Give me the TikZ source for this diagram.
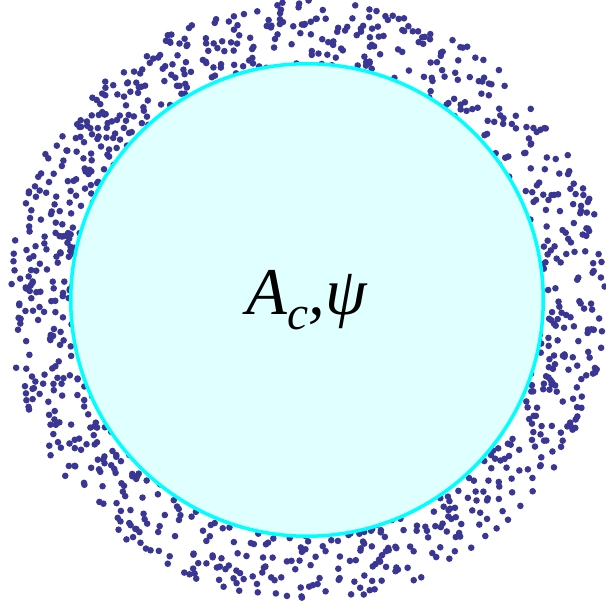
\documentclass[tikz,border=0pt]{standalone}
\usepackage{amsmath, fontspec, tikz}
\newfontfamily\labelfont{Liberation Serif}
\definecolor{dotblue}{RGB}{58,54,148}
\definecolor{rimcyan}{RGB}{0,255,255}
\definecolor{corefill}{RGB}{224,255,255}

\begin{document}
\begin{tikzpicture}[x=0.2cm, y=0.2cm]
  \useasboundingbox (-30.7,-30.8) rectangle (29.8,30.0);
  \pgfmathsetseed{4213}
  \foreach \i in {1, ..., 1080} {
    \pgfmathsetmacro{\ang}{360*rnd}
    \pgfmathsetmacro{\rad}{sqrt(506.25 + 393.75*rnd)}
    \fill[dotblue] (\ang:\rad) circle[radius=0.066cm];
  }
  \node[circle, draw=rimcyan, fill=corefill, line width=2pt,
    minimum size=9.45cm, font=\labelfont\fontsize{38}{44}\selectfont\itshape]
    (core) at (0,0) {A\raisebox{-0.22em}{\fontsize{27}{27}\selectfont c},ψ};
\end{tikzpicture}
\end{document}
